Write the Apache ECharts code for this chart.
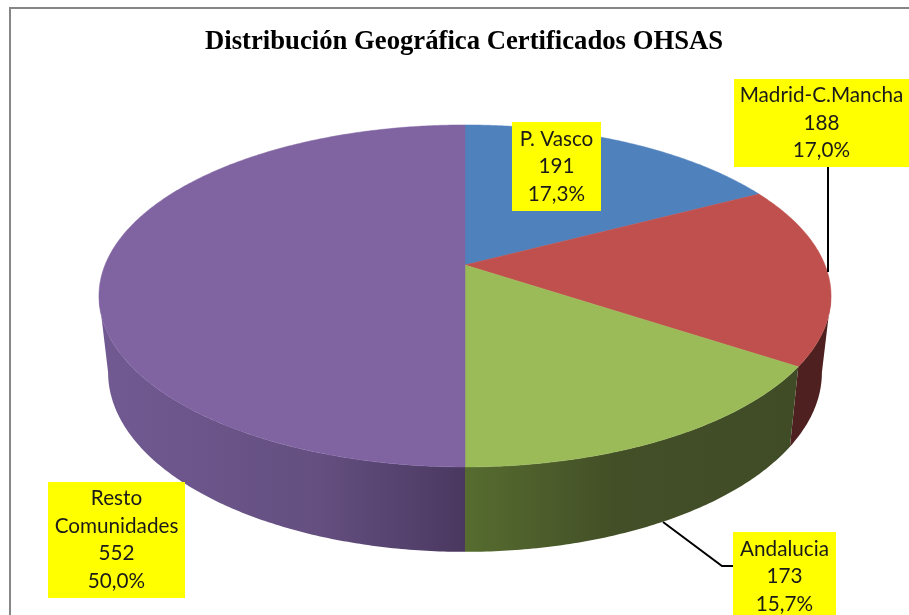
<!DOCTYPE html>
<html>
<head>
<meta charset="utf-8">
<title>Distribución Geográfica Certificados OHSAS</title>
<script src="https://cdn.jsdelivr.net/npm/echarts@6/dist/echarts.min.js"></script>
<style>
  html, body { margin: 0; padding: 0; background: #fff; overflow: hidden; }
  #chart { width: 909px; height: 615px; }
</style>
</head>
<body>
<div id="chart"></div>
<script>
const titleText = 'Distribución Geográfica Certificados OHSAS'
const categories = ['P. Vasco', 'Madrid-C.Mancha', 'Andalucia', 'Resto\nComunidades']
const values = [191, 188, 173, 552]

const total = values.reduce((a, b) => a + b, 0)
const topColors = ['#4f81bd', '#c0504d', '#9bbb59', '#8064a2']
const wallStops = [
  null,
  [[0, '#4f2020'], [1, '#4f2020']],
  [[0, '#566c2f'], [0.45, '#434f27'], [1, '#3f4c26']],
  [[0, '#715a92'], [0.6, '#644f80'], [1, '#4a3860']]
]

// label boxes [x, y, w, h]
const labelBoxes = [
  [512, 122, 89, 89],
  [734, 79, 175, 88],
  [733, 532, 103, 89],
  [48, 482, 137, 116]
]
const leaderLines = [
  [[828, 167], [828, 272]],
  [[663, 522], [722, 566], [733, 566]]
]

// perspective of the disc, top rim and bottom rim
const persp = 0.181
const topRim = { cx: 465, cy: 265, a: 360, b: 165.4 }
const bottomRim = { cx: 465, cy: 340, a: 351, b: 173.5 }
const wallFrom = Math.PI / 2 + Math.asin(persp)
const wallTo = Math.PI * 1.5 - Math.asin(persp)

function project(rim, angle) {
  const d = 1 + persp * Math.cos(angle)
  return [rim.cx + rim.a * Math.sin(angle) / d, rim.cy - rim.b * Math.cos(angle) / d]
}

function arc(rim, from, to) {
  const pts = []
  const steps = Math.max(2, Math.ceil(Math.abs(to - from) / 0.01))
  for (let i = 0; i <= steps; i++) {
    pts.push(project(rim, from + (to - from) * i / steps))
  }
  return pts
}

function renderSlice(params, api) {
  const i = params.dataIndex
  const before = values.slice(0, i).reduce((a, b) => a + b, 0)
  const start = before / total * Math.PI * 2
  const end = (before + api.value(0)) / total * Math.PI * 2
  const children = []

  const wStart = Math.max(start, wallFrom)
  const wEnd = Math.min(end, wallTo)
  if (wEnd > wStart && wallStops[i]) {
    const stops = wallStops[i].map(s => ({ offset: s[0], color: s[1] }))
    const fill = new echarts.graphic.LinearGradient(0, 0, 1, 0, stops)
    children.push({
      type: 'polygon',
      z2: 1,
      shape: { points: arc(topRim, wStart, wEnd).concat(arc(bottomRim, wEnd, wStart)) },
      style: { fill: fill }
    })
  }
  children.push({
    type: 'polygon',
    z2: 2,
    shape: { points: [[topRim.cx, topRim.cy]].concat(arc(topRim, start, end)) },
    style: { fill: topColors[i], stroke: topColors[i], lineWidth: 0.5 }
  })
  return { type: 'group', children: children }
}

function renderLabel(params, api) {
  const i = params.dataIndex
  const box = labelBoxes[i]
  const pct = (api.value(0) / total * 100).toFixed(1).replace('.', ',') + '%'
  return {
    type: 'group',
    children: [{
      type: 'rect',
      shape: { x: box[0], y: box[1], width: box[2], height: box[3] },
      style: { fill: '#ffff00' }
    }, {
      type: 'text',
      style: {
        x: box[0] + box[2] / 2,
        y: box[1] + box[3] / 2,
        text: categories[i] + '\n' + api.value(0) + '\n' + pct,
        align: 'center',
        verticalAlign: 'middle',
        font: '20.7px Lato',
        lineHeight: 27.5,
        fill: '#1a1a1a'
      }
    }]
  }
}

const chart = echarts.init(document.getElementById('chart'))
chart.setOption({
  animation: false,
  backgroundColor: '#ffffff',
  title: {
    text: titleText,
    left: 200,
    top: 24,
    textStyle: {
      fontFamily: 'Liberation Serif',
      fontWeight: 'bold',
      fontSize: 26.7,
      color: '#000000'
    }
  },
  graphic: [{
    type: 'polyline',
    silent: true,
    z: 0,
    shape: { points: [[10, 615], [10, 8], [909, 8]] },
    style: { fill: null, stroke: '#868686', lineWidth: 2 }
  }].concat(leaderLines.map(points => ({
    type: 'polyline',
    silent: true,
    z: 5,
    shape: { points: points },
    style: { fill: null, stroke: '#000000', lineWidth: 2 }
  }))),
  series: [{
    type: 'custom',
    coordinateSystem: 'none',
    silent: true,
    z: 2,
    renderItem: renderSlice,
    data: values.map(v => [v])
  }, {
    type: 'custom',
    coordinateSystem: 'none',
    silent: true,
    z: 6,
    renderItem: renderLabel,
    data: values.map(v => [v])
  }]
})
</script>
</body>
</html>
